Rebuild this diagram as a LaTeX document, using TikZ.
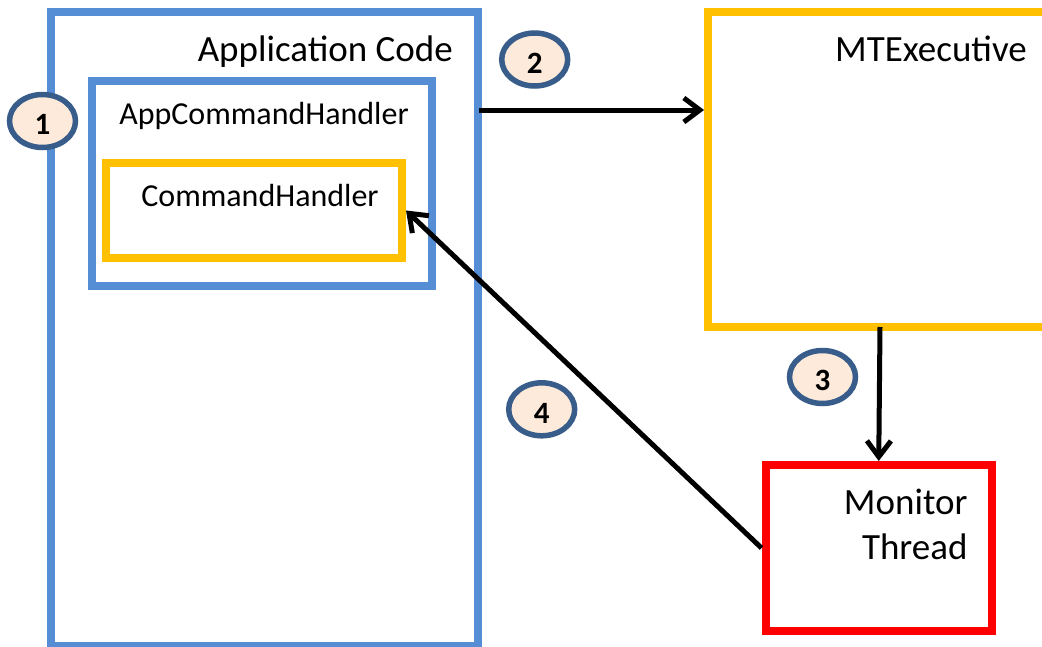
\documentclass[tikz,border=0pt]{standalone}
\usepackage{fontspec}
\setmainfont{Carlito}
\usetikzlibrary{arrows.meta,shapes.geometric}

\definecolor{frameblue}{RGB}{85,142,213}
\definecolor{frameyellow}{RGB}{255,192,0}
\definecolor{framered}{RGB}{255,0,0}
\definecolor{badgefill}{RGB}{253,234,218}
\definecolor{badgeedge}{RGB}{56,93,138}

\tikzset{
  frame/.style={draw, line width=8pt, rectangle, inner sep=0pt},
  caption/.style={inner sep=0pt, font=\fontsize{37}{44}\selectfont},
  smallcaption/.style={inner sep=0pt, font=\fontsize{32}{38}\selectfont},
  badge/.style={ellipse, draw=badgeedge, fill=badgefill, line width=5.5pt,
    minimum width=66pt, minimum height=53pt, inner sep=0pt,
    text height=27.5pt, text depth=0pt,
    font=\bfseries\fontsize{31}{31}\selectfont},
  conn/.style={draw=black, line width=5pt,
    -{Straight Barb[length=16pt,width=24pt]}}
}

\begin{document}
\begin{tikzpicture}[x=1pt,y=-1pt]
  \useasboundingbox (0,0) rectangle (1042,646);
  \fill[white] (0,0) rectangle (1042,646);
  \clip (0,0) rectangle (1042,646);

  % containers
  \node[frame, draw=frameblue, minimum width=427.5pt, minimum height=634.5pt]
    (app) at (264.25,328.75) {};
  \node[frame, draw=frameblue, minimum width=340pt, minimum height=205.2pt]
    (ach) at (262,183.1) {};
  \node[frame, draw=frameyellow, minimum width=296.5pt, minimum height=95.6pt]
    (ch) at (253.75,210.5) {};
  \node[frame, draw=frameyellow, minimum width=372pt, minimum height=315.5pt]
    (mte) at (894,169.25) {};
  \node[frame, draw=framered, minimum width=226.5pt, minimum height=166pt]
    (mon) at (878.75,548) {};

  % titles
  \node[caption, anchor=base east] (appt) at (453,61) {Application Code};
  \node[smallcaption, anchor=base] (acht) at (264,124) {AppCommandHandler};
  \node[smallcaption, anchor=base] (cht) at (260,206.7) {CommandHandler};
  \node[caption, anchor=base east] (mtet) at (1027,61) {MTExecutive};
  \node[caption, anchor=base east] (mont1) at (967.7,514) {Monitor};
  \node[caption, anchor=base east] (mont2) at (967.7,559.3) {Thread};

  % message flow
  \coordinate (a2) at (479,110);
  \coordinate (a3) at (880,327);
  \draw[conn] (a2) -- (mte.west |- a2);
  \draw[conn] (a3) -- (mon.north);
  \draw[conn] (mon.west) -- (ch.east);

  % step numbers
  \node[badge] (s1) at (42.5,121) {1};
  \node[badge] (s2) at (534.7,59.5) {2};
  \node[badge] (s3) at (822.5,377) {3};
  \node[badge] (s4) at (541.7,409.3) {4};
\end{tikzpicture}
\end{document}
